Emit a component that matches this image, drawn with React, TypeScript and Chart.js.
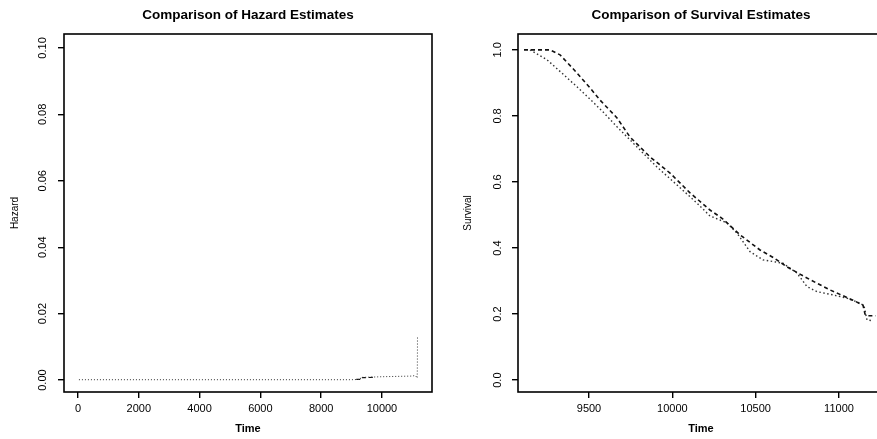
import React, { useEffect, useRef } from 'react';
import { Chart, registerables } from 'chart.js';

Chart.register(...registerables);

// ---------- Data ----------
// Hazard estimate 1 (dotted), whole time range
const HAZ_TIME_DOTTED = [30, 1000, 2000, 3000, 4000, 5000, 6000, 7000, 8000, 9000, 9290, 9300, 9700, 10000, 10500, 11000, 11100, 11160, 11165, 11170];
const HAZ_DOTTED = [0.0001, 0.0001, 0.0001, 0.0001, 0.0001, 0.0001, 0.0001, 0.0001, 0.0001, 0.0001, 0.0002, 0.0008, 0.0009, 0.001, 0.0011, 0.0012, 0.0014, 0.0006, 0.004, 0.013];
// Hazard estimate 2 (dashed), short segment
const HAZ_TIME_DASHED = [9155, 9290, 9300, 9700];
const HAZ_DASHED = [0.0002, 0.0002, 0.0007, 0.0008];

// Survival estimate 1 (dashed)
const SURV_TIME_DASHED = [9110, 9266, 9326, 9410, 9506, 9566, 9668, 9746, 9866, 9986, 10106, 10226, 10298, 10406, 10526, 10610, 10688, 10808, 10946, 11084, 11144, 11156, 11168, 11220];
const SURV_DASHED = [1.0, 1.0, 0.985, 0.94, 0.885, 0.848, 0.794, 0.736, 0.676, 0.627, 0.567, 0.515, 0.49, 0.44, 0.394, 0.37, 0.343, 0.309, 0.273, 0.242, 0.227, 0.2, 0.195, 0.195];
// Survival estimate 2 (dotted)
const SURV_TIME_DOTTED = [9146, 9248, 9350, 9428, 9530, 9590, 9668, 9788, 9908, 10028, 10150, 10226, 10328, 10388, 10466, 10544, 10664, 10748, 10808, 10868, 10964, 11048, 11126, 11150, 11168, 11200];
const SURV_DOTTED = [1.0, 0.97, 0.924, 0.888, 0.839, 0.809, 0.767, 0.706, 0.645, 0.591, 0.535, 0.497, 0.476, 0.445, 0.389, 0.364, 0.354, 0.324, 0.283, 0.268, 0.258, 0.248, 0.233, 0.225, 0.182, 0.18];

// Axis ticks
const HAZ_X_TICKS = [0, 2000, 4000, 6000, 8000, 10000];
const HAZ_Y_TICKS = [0, 0.02, 0.04, 0.06, 0.08, 0.1];
const SURV_X_TICKS = [9500, 10000, 10500, 11000];
const SURV_Y_TICKS = [0, 0.2, 0.4, 0.6, 0.8, 1.0];

// Axis ranges
const HAZ_X_RANGE = [-461, 11647];
const HAZ_Y_RANGE = [-0.0036, 0.1042];
const SURV_X_RANGE = [9074, 11270];
const SURV_Y_RANGE = [-0.036, 1.048];

const FONT = "'Liberation Sans', Arial, Helvetica, sans-serif";

const boxPlugin = {
  id: 'plotBox',
  afterDatasetsDraw(chart: any) {
    const { ctx, chartArea: a } = chart;
    ctx.save();
    ctx.strokeStyle = '#000';
    ctx.lineWidth = 1.6;
    ctx.strokeRect(a.left, a.top, a.right - a.left, a.bottom - a.top);
    ctx.restore();
  },
};

function series(xs: number[], ys: number[], dash: number[], width: number, color: string) {
  return {
    data: xs.map((x, i) => ({ x, y: ys[i] })),
    showLine: true,
    borderColor: color,
    borderWidth: width,
    borderDash: dash,
    pointRadius: 0,
    fill: false,
    tension: 0,
  };
}

function buildConfig(p: any) {
  const grid = {
    display: true,
    drawOnChartArea: false,
    drawTicks: true,
    tickLength: 6,
    color: '#000',
    lineWidth: 1.4,
  };
  return {
    type: 'scatter',
    data: { datasets: p.datasets },
    options: {
      animation: false,
      responsive: false,
      maintainAspectRatio: false,
      events: [],
      layout: { padding: { left: 0, right: p.rightPad, top: 0, bottom: 0 } },
      plugins: {
        legend: { display: false },
        tooltip: { enabled: false },
        title: {
          display: true,
          text: p.title,
          fullSize: false,
          color: '#000',
          font: { family: FONT, size: 13.5, weight: 'bold' },
          padding: { top: 6.9, bottom: 10.9 },
        },
      },
      scales: {
        x: {
          type: 'linear',
          min: p.xRange[0],
          max: p.xRange[1],
          afterBuildTicks: (s: any) => {
            s.ticks = p.xTicks.map((v: number) => ({ value: v }));
          },
          afterFit: (s: any) => {
            s.height = 47;
          },
          ticks: {
            color: '#000',
            font: { family: FONT, size: 11 },
            padding: 4,
            minRotation: 0,
            maxRotation: 0,
            callback: (v: any) => String(v),
          },
          grid,
          border: { display: false },
          title: {
            display: true,
            text: 'Time',
            color: '#000',
            font: { family: FONT, size: 11, weight: 'bold' },
            padding: { top: 0, bottom: 3.4 },
          },
        },
        y: {
          type: 'linear',
          min: p.yRange[0],
          max: p.yRange[1],
          afterBuildTicks: (s: any) => {
            s.ticks = p.yTicks.map((v: number) => ({ value: v }));
          },
          afterFit: (s: any) => {
            s.width = p.yWidth;
          },
          ticks: {
            color: '#000',
            font: { family: FONT, size: 11 },
            padding: p.yTickPad,
            minRotation: 90,
            maxRotation: 90,
            crossAlign: 'center',
            callback: (v: any) => Number(v).toFixed(p.yDigits),
          },
          grid,
          border: { display: false },
          title: {
            display: true,
            text: p.yTitle,
            color: '#000',
            font: { family: FONT, size: 10 },
            padding: { top: p.yTitlePad, bottom: 0 },
          },
        },
      },
    },
    plugins: [boxPlugin],
  };
}

function Panel({ left, width, height, config }: any) {
  const ref = useRef<HTMLCanvasElement | null>(null);
  useEffect(() => {
    if (!ref.current) return;
    const chart = new Chart(ref.current, config);
    return () => chart.destroy();
  }, []);
  return (
    <div style={{ position: 'absolute', left, top: 0, width, height }}>
      <canvas ref={ref} width={width} height={height} style={{ width, height, display: 'block' }} />
    </div>
  );
}

export default function App() {
  const hazardConfig = buildConfig({
    title: 'Comparison of Hazard Estimates',
    yTitle: 'Hazard',
    xRange: HAZ_X_RANGE,
    yRange: HAZ_Y_RANGE,
    xTicks: HAZ_X_TICKS,
    yTicks: HAZ_Y_TICKS,
    yDigits: 2,
    yWidth: 64,
    rightPad: 8,
    yTickPad: 4.3,
    yTitlePad: 9,
    datasets: [
      series(HAZ_TIME_DOTTED, HAZ_DOTTED, [1, 2], 1, '#333'),
      series(HAZ_TIME_DASHED, HAZ_DASHED, [4, 3], 1.2, '#111'),
    ],
  });
  const survivalConfig = buildConfig({
    title: 'Comparison of Survival Estimates',
    yTitle: 'Survival',
    xRange: SURV_X_RANGE,
    yRange: SURV_Y_RANGE,
    xTicks: SURV_X_TICKS,
    yTicks: SURV_Y_TICKS,
    yDigits: 1,
    yWidth: 78,
    rightPad: 16,
    yTickPad: 6.7,
    yTitlePad: 22.5,
    datasets: [
      series(SURV_TIME_DASHED, SURV_DASHED, [4, 3], 1.6, '#111'),
      series(SURV_TIME_DOTTED, SURV_DOTTED, [1.5, 2.5], 1.4, '#333'),
    ],
  });
  return (
    <div
      style={{
        position: 'fixed',
        left: 0,
        top: 0,
        width: 877,
        height: 439,
        overflow: 'hidden',
        background: '#fff',
      }}
    >
      <Panel left={0} width={440} height={439} config={hazardConfig} />
      <Panel left={440} width={460} height={439} config={survivalConfig} />
    </div>
  );
}
